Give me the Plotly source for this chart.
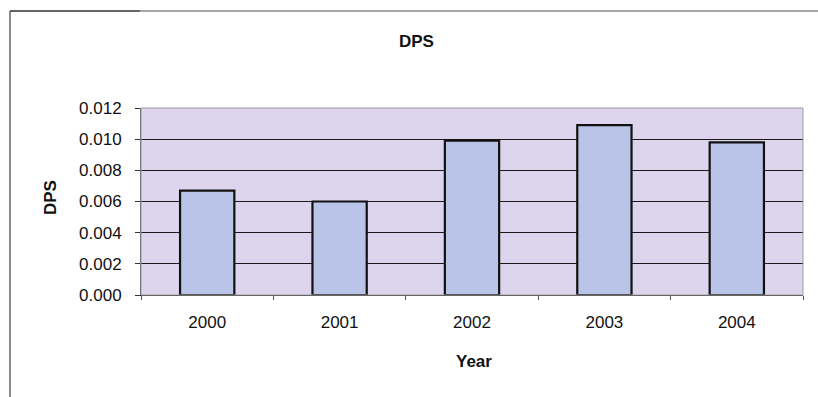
import plotly.graph_objects as go

years = ["2000", "2001", "2002", "2003", "2004"]
dps = [0.0067, 0.0060, 0.0099, 0.0109, 0.0098]
y_ticks = [0.000, 0.002, 0.004, 0.006, 0.008, 0.010, 0.012]
y_tick_labels = ["0.000", "0.002", "0.004", "0.006", "0.008", "0.010", "0.012"]

W, H = 818, 397
L, R, T, B = 141, 15, 108, 102
pw, ph = W - L - R, H - T - B


def px_x(p):
    return (p - L) / pw


def px_y(p):
    return (H - B - p) / ph


fig = go.Figure(
    go.Bar(
        x=years,
        y=dps,
        width=0.41,
        marker=dict(color="#BAC4E8", line=dict(color="#111111", width=2.2)),
    )
)

font = "Liberation Sans, Arial, sans-serif"

fig.update_layout(
    width=W,
    height=H,
    margin=dict(l=L, r=R, t=T, b=B),
    paper_bgcolor="white",
    plot_bgcolor="#DDD5EE",
    showlegend=False,
    font=dict(family=font, size=17, color="#111111"),
    xaxis=dict(
        type="category",
        ticks="outside",
        tickson="boundaries",
        ticklen=4,
        tickcolor="#555555",
        showgrid=False,
        showline=True,
        linecolor="#333333",
        linewidth=1,
        tickfont=dict(size=17),
        ticklabelstandoff=12,
    ),
    yaxis=dict(
        range=[0, 0.012],
        tickvals=y_ticks,
        ticktext=y_tick_labels,
        ticks="outside",
        ticklen=5,
        tickcolor="#333333",
        showgrid=True,
        gridcolor="#1a1a1a",
        gridwidth=1,
        showline=True,
        linecolor="#555555",
        linewidth=1,
        zeroline=False,
        tickfont=dict(size=17),
        ticklabelstandoff=10,
    ),
    annotations=[
        dict(text="<b>DPS</b>", x=px_x(416), y=px_y(42), xref="paper", yref="paper",
             showarrow=False, font=dict(size=17), xanchor="center", yanchor="middle"),
        dict(text="<b>Year</b>", x=px_x(474), y=px_y(361), xref="paper", yref="paper",
             showarrow=False, font=dict(size=17), xanchor="center", yanchor="middle"),
        dict(text="<b>DPS</b>", x=px_x(50), y=px_y(198), xref="paper", yref="paper",
             showarrow=False, font=dict(size=17), textangle=-90,
             xanchor="center", yanchor="middle"),
    ],
    shapes=[
        # plot area border
        dict(type="rect", xref="paper", yref="paper", x0=0, x1=1, y0=0, y1=1,
             line=dict(color="#9a9a9a", width=1), layer="above"),
        # outer chart frame: left and top edges
        dict(type="line", xref="paper", yref="paper",
             x0=px_x(10), x1=px_x(10), y0=px_y(11), y1=px_y(397),
             line=dict(color="#666666", width=1.5)),
        dict(type="line", xref="paper", yref="paper",
             x0=px_x(10), x1=px_x(140), y0=px_y(11), y1=px_y(11),
             line=dict(color="#333333", width=1.5)),
        dict(type="line", xref="paper", yref="paper",
             x0=px_x(140), x1=px_x(818), y0=px_y(11), y1=px_y(11),
             line=dict(color="#8a8a8a", width=1.5)),
    ],
)

fig.write_html("out.html")
